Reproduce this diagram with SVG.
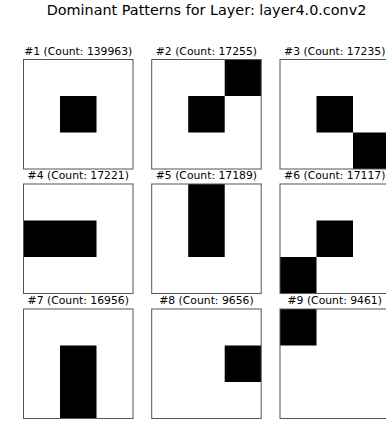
<svg xmlns="http://www.w3.org/2000/svg" width="386" height="422" viewBox="0 0 386 422">
<style>
text{font-family:"DejaVu Sans","Liberation Sans",sans-serif;fill:#000;text-anchor:middle}
.t{font-size:14.4px}
.l{font-size:10.8px}
.frame{fill:none;stroke:#555;stroke-width:1}
.bg{fill:#fff}
.c{fill:#000}
</style>
<rect width="386" height="422" fill="#fff"/>
<text class="t" x="206.5" y="15">Dominant Patterns for Layer: layer4.0.conv2</text>

<g id="p1" transform="translate(23.5,59.5)">
<text class="l" x="54.75" y="-5">#1 (Count: 139963)</text>
<rect class="bg" width="109.5" height="109.5"/>
<rect class="c" x="36.5" y="36.5" width="36.5" height="36.5"/>
<rect class="frame" width="109.5" height="109.5"/>
</g>
<g id="p2" transform="translate(151.7,59.5)">
<text class="l" x="54.75" y="-5">#2 (Count: 17255)</text>
<rect class="bg" width="109.5" height="109.5"/>
<rect class="c" x="73" y="0" width="36.5" height="36.5"/>
<rect class="c" x="36.5" y="36.5" width="36.5" height="36.5"/>
<rect class="frame" width="109.5" height="109.5"/>
</g>
<g id="p3" transform="translate(280,59.5)">
<text class="l" x="54.75" y="-5">#3 (Count: 17235)</text>
<rect class="bg" width="109.5" height="109.5"/>
<rect class="c" x="36.5" y="36.5" width="36.5" height="36.5"/>
<rect class="c" x="73" y="73" width="36.5" height="36.5"/>
<rect class="frame" width="109.5" height="109.5"/>
</g>

<g id="p4" transform="translate(23.5,184)">
<text class="l" x="54.75" y="-5">#4 (Count: 17221)</text>
<rect class="bg" width="109.5" height="109.5"/>
<rect class="c" x="0" y="36.5" width="73" height="36.5"/>
<rect class="frame" width="109.5" height="109.5"/>
</g>
<g id="p5" transform="translate(151.7,184)">
<text class="l" x="54.75" y="-5">#5 (Count: 17189)</text>
<rect class="bg" width="109.5" height="109.5"/>
<rect class="c" x="36.5" y="0" width="36.5" height="73"/>
<rect class="frame" width="109.5" height="109.5"/>
</g>
<g id="p6" transform="translate(280,184)">
<text class="l" x="54.75" y="-5">#6 (Count: 17117)</text>
<rect class="bg" width="109.5" height="109.5"/>
<rect class="c" x="36.5" y="36.5" width="36.5" height="36.5"/>
<rect class="c" x="0" y="73" width="36.5" height="36.5"/>
<rect class="frame" width="109.5" height="109.5"/>
</g>

<g id="p7" transform="translate(23.5,309)">
<text class="l" x="54.75" y="-5">#7 (Count: 16956)</text>
<rect class="bg" width="109.5" height="109.5"/>
<rect class="c" x="36.5" y="36.5" width="36.5" height="73"/>
<rect class="frame" width="109.5" height="109.5"/>
</g>
<g id="p8" transform="translate(151.7,309)">
<text class="l" x="54.75" y="-5">#8 (Count: 9656)</text>
<rect class="bg" width="109.5" height="109.5"/>
<rect class="c" x="73" y="36.5" width="36.5" height="36.5"/>
<rect class="frame" width="109.5" height="109.5"/>
</g>
<g id="p9" transform="translate(280,309)">
<text class="l" x="54.75" y="-5">#9 (Count: 9461)</text>
<rect class="bg" width="109.5" height="109.5"/>
<rect class="c" x="0" y="0" width="36.5" height="36.5"/>
<rect class="frame" width="109.5" height="109.5"/>
</g>
</svg>
